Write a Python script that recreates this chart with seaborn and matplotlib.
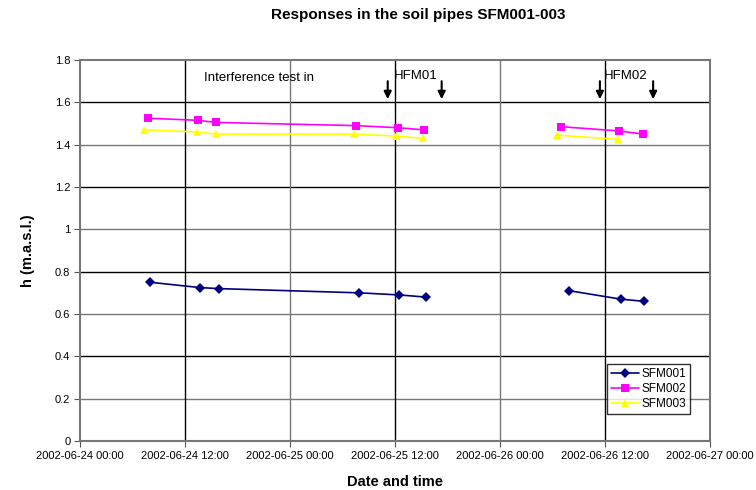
import pandas as pd
import matplotlib.pyplot as plt
import seaborn as sns

# readings per soil pipe, two measurement campaigns each
sfm001_time = ['2002-06-24 08:00', '2002-06-24 13:40', '2002-06-24 15:50',
               '2002-06-25 07:55', '2002-06-25 12:30', '2002-06-25 15:30',
               '2002-06-26 07:55', '2002-06-26 13:50', '2002-06-26 16:25']
sfm001_h = [0.75, 0.725, 0.72, 0.70, 0.69, 0.68, 0.71, 0.67, 0.66]
sfm001_run = [1, 1, 1, 1, 1, 1, 2, 2, 2]

sfm002_time = ['2002-06-24 07:45', '2002-06-24 13:30', '2002-06-24 15:35',
               '2002-06-25 07:35', '2002-06-25 12:20', '2002-06-25 15:20',
               '2002-06-26 06:55', '2002-06-26 13:35', '2002-06-26 16:20']
sfm002_h = [1.525, 1.515, 1.505, 1.49, 1.48, 1.47, 1.485, 1.465, 1.45]
sfm002_run = [1, 1, 1, 1, 1, 1, 2, 2, 2]

sfm003_time = ['2002-06-24 07:20', '2002-06-24 13:25', '2002-06-24 15:30',
               '2002-06-25 07:20', '2002-06-25 12:10', '2002-06-25 15:10',
               '2002-06-26 06:30', '2002-06-26 13:30']
sfm003_h = [1.47, 1.46, 1.45, 1.45, 1.44, 1.43, 1.445, 1.425]
sfm003_run = [1, 1, 1, 1, 1, 1, 2, 2]

# interference test start/stop
hfm01_arrows = ['2002-06-25 11:10', '2002-06-25 17:20']
hfm02_arrows = ['2002-06-26 11:25', '2002-06-26 17:30']

frames = []
for name, t, h, r in [('SFM001', sfm001_time, sfm001_h, sfm001_run),
                      ('SFM002', sfm002_time, sfm002_h, sfm002_run),
                      ('SFM003', sfm003_time, sfm003_h, sfm003_run)]:
    frames.append(pd.DataFrame({'time': pd.to_datetime(t), 'h': h,
                                'pipe': name, 'run': [name + str(x) for x in r]}))
df = pd.concat(frames, ignore_index=True)

sns.set_style('white')
plt.rcParams['font.family'] = ['Liberation Sans', 'DejaVu Sans']
plt.rcParams['text.color'] = 'black'
plt.rcParams['axes.labelcolor'] = 'black'
plt.rcParams['xtick.color'] = 'black'
plt.rcParams['ytick.color'] = 'black'

fig = plt.figure(figsize=(7.56, 4.9), dpi=100)
ax = fig.add_axes([80 / 756, 1 - 441 / 490, 630 / 756, 381 / 490])

pal = {'SFM001': '#000080', 'SFM002': '#FF00FF', 'SFM003': '#FFFF00'}
mk = {'SFM001': 'D', 'SFM002': 's', 'SFM003': '^'}
sns.lineplot(data=df, x='time', y='h', hue='pipe', style='pipe', units='run',
             estimator=None, palette=pal, markers=mk, dashes=False, ax=ax,
             markersize=5.5, markeredgewidth=0, linewidth=1.2)
for line in ax.lines:
    if line.get_marker() == 'D':
        line.set_markersize(5)

x0 = pd.Timestamp('2002-06-24 00:00')
x1 = pd.Timestamp('2002-06-27 00:00')
ax.set_xlim(x0, x1)
ax.set_ylim(0, 1.8)

ticks = pd.date_range(x0, x1, freq='12h')
ax.set_xticks(ticks)
ax.set_xticklabels([t.strftime('%Y-%m-%d %H:%M') for t in ticks], fontsize=8)
yt = [0, 0.2, 0.4, 0.6, 0.8, 1.0, 1.2, 1.4, 1.6, 1.8]
ax.set_yticks(yt)
ax.set_yticklabels(['%g' % v for v in yt], fontsize=8)
ax.tick_params(axis='both', direction='out', length=4, width=0.8,
               color='#555555', bottom=True, left=True, pad=3)

# alternating grid shades as in the original
for i, v in enumerate(yt[1:-1]):
    ax.axhline(v, color='black' if i % 2 == 1 else '#777777', lw=1, zorder=0)
for i, t in enumerate(ticks[1:-1]):
    ax.axvline(t, color='black' if i % 2 == 0 else '#777777', lw=1, zorder=0)

for s in ax.spines.values():
    s.set_color('#777777')
    s.set_linewidth(1.5)

for t in hfm01_arrows + hfm02_arrows:
    ax.annotate('', xy=(pd.Timestamp(t), 1.615), xytext=(pd.Timestamp(t), 1.70),
                arrowprops=dict(arrowstyle='-|>', color='black', lw=1.5,
                                mutation_scale=11, shrinkA=0, shrinkB=0))
ax.text(pd.Timestamp('2002-06-24 20:30'), 1.715, 'Interference test in',
        ha='center', va='center', fontsize=9.5)
ax.text(pd.Timestamp('2002-06-25 11:50'), 1.725, 'HFM01', ha='left',
        va='center', fontsize=9.5)
ax.text(pd.Timestamp('2002-06-26 11:50'), 1.725, 'HFM02', ha='left',
        va='center', fontsize=9.5)

ax.set_xlabel('Date and time', fontsize=10.5, fontweight='bold', labelpad=10)
ax.set_ylabel('h (m.a.s.l.)', fontsize=10.5, fontweight='bold', labelpad=14)
fig.suptitle('Responses in the soil pipes SFM001-003', x=418 / 756, y=1 - 15 / 490,
             fontsize=11, fontweight='bold', va='center')

leg = ax.legend(loc='lower right', bbox_to_anchor=(0.978, 0.055), fontsize=8.5,
                frameon=True, fancybox=False, borderpad=0.35, handlelength=2.4,
                handletextpad=0.2, labelspacing=0.25)
leg.get_frame().set_edgecolor('black')
leg.get_frame().set_linewidth(1)

fig.savefig('out.png', dpi=100)
